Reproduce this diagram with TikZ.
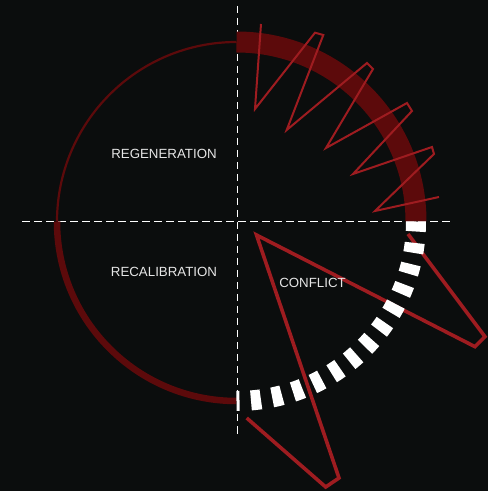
\documentclass[tikz,border=0pt]{standalone}
\usepackage{fontspec}
\setmainfont{Liberation Sans}
\definecolor{bg}{HTML}{0B0D0D}
\definecolor{ringred}{HTML}{5C0A0B}
\definecolor{linered}{HTML}{9E1C20}
\definecolor{txt}{HTML}{E6E6E6}
\begin{document}
\begin{tikzpicture}[x=1pt,y=1pt,
  axis/.style={draw=white,line width=1.7pt,dash pattern=on 7.5pt off 4.5pt},
  ring/.style={draw=ringred,line cap=butt},
  zig/.style={draw=linered,line width=2pt,line join=miter},
  chev/.style={draw=linered,line width=3.6pt,line join=miter,miter limit=20},
  lbl/.style={text=txt,font=\fontsize{13.3}{15}\selectfont,inner sep=0pt,anchor=center}]
\fill[bg] (0,0) rectangle (488,491);
\useasboundingbox (0,0) rectangle (488,491);
% axes
\coordinate (c) at (236.5,269.5);
\coordinate (vt) at (237.5,485);
\coordinate (vb) at (237.5,55);
\coordinate (hl) at (22,269.5);
\coordinate (hr) at (454,269.5);
\draw[axis] (vt) -- (vb);
\draw[axis] (hl) -- (hr);
% ring arcs
\draw[ring,line width=21pt] ([shift={(90:179.5)}]c) arc[start angle=90,end angle=0,radius=179.5];
\draw[ring,line width=2.2pt] ([shift={(90:179.5)}]c) arc[start angle=90,end angle=180,radius=179.5];
\draw[ring,line width=6.5pt] ([shift={(180:179.5)}]c) arc[start angle=180,end angle=270,radius=179.5];
% zigzag
\coordinate (z1) at (261,467);
\coordinate (z2) at (255,382);
\coordinate (z3) at (315,458.3);
\coordinate (z4) at (323.3,456);
\coordinate (z5) at (286.7,361);
\coordinate (z6) at (367,428);
\coordinate (z7) at (373,422);
\coordinate (z8) at (326,343);
\coordinate (z9) at (407,388);
\coordinate (z10) at (412,380);
\coordinate (z11) at (353,317);
\coordinate (z12) at (432,344);
\coordinate (z13) at (434,337);
\coordinate (z14) at (375,280);
\coordinate (z15) at (439,294);
\draw[zig] (z1) -- (z2) -- (z3) -- (z4) -- (z5) -- (z6) -- (z7) -- (z8) -- (z9) -- (z10) -- (z11) -- (z12) -- (z13) -- (z14) -- (z15);
% chevron
\coordinate (k1) at (408,257);
\coordinate (k2) at (485,154.3);
\coordinate (k3) at (475,144.3);
\coordinate (k4) at (256.5,256);
\coordinate (k5) at (339,13);
\coordinate (k6) at (325.7,4);
\coordinate (k7) at (246.7,73);
\draw[chev] (k1) -- (k2) -- (k3) -- (k4) -- (k5) -- (k6) -- (k7);
% white dashed ring quarter
\draw[draw=white,line width=20pt,line cap=butt,dash pattern=on 10pt off 11.46pt]
  ([shift={(0:179.5)}]c) arc[start angle=0,end angle=-90,radius=179.5];
% labels
\node[lbl] (regen) at (164,337) {REGENERATION};
\node[lbl] (recal) at (164,219.5) {RECALIBRATION};
\node[lbl] (conf) at (312.5,208.5) {CONFLICT};
\end{tikzpicture}
\end{document}
